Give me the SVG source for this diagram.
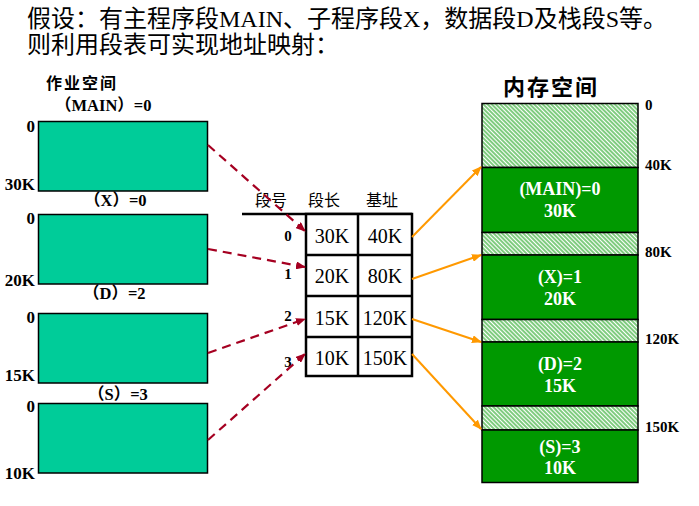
<svg xmlns="http://www.w3.org/2000/svg" width="699" height="506" viewBox="0 0 699 506">
<style>
.t{font-family:"Liberation Serif","Noto Sans CJK SC",serif;fill:#000}
.b{font-weight:bold}
.job{fill:#00CC99;stroke:#000;stroke-width:1.5}
.seg{fill:#009900;stroke:#000;stroke-width:1.5}
.hat{fill:url(#hatch);stroke:#000;stroke-width:1.5}
.wl{font-family:"Liberation Serif",serif;font-weight:bold;font-size:18px;fill:#fff;text-anchor:middle}
.cell{fill:#fff;stroke:#000;stroke-width:2.5}
.ct{font-family:"Liberation Serif",serif;font-size:20px;text-anchor:middle}
.red{stroke:#A50021;stroke-width:2.2;stroke-dasharray:9,6;fill:none;marker-end:url(#ar)}
.org{stroke:#FF9900;stroke-width:2;fill:none;marker-end:url(#ao)}
.ll{font-family:"Liberation Serif",serif;font-weight:bold;font-size:17px;text-anchor:end}
.ml{font-family:"Liberation Serif",serif;font-weight:bold;font-size:15px}
</style>
<defs>
<pattern id="hatch" patternUnits="userSpaceOnUse" width="3" height="3" patternTransform="rotate(-45)">
<rect width="3" height="3" fill="#fff"/>
<line x1="1" y1="0" x2="1" y2="3" stroke="#009900" stroke-width="1"/>
</pattern>
<marker id="ar" markerWidth="10" markerHeight="8" refX="9" refY="4" orient="auto" markerUnits="userSpaceOnUse">
<path d="M0,0 L10,4 L0,8 z" fill="#A50021"/>
</marker>
<marker id="ao" markerWidth="10" markerHeight="8" refX="9" refY="4" orient="auto" markerUnits="userSpaceOnUse">
<path d="M0,0 L10,4 L0,8 z" fill="#FF9900"/>
</marker>
</defs>

<g id="title">
<text class="t" x="27" y="27" font-size="24">假设：有主程序段MAIN、子程序段X，数据段D及栈段S等。</text>
<text class="t" x="27" y="53" font-size="24">则利用段表可实现地址映射：</text>
</g>

<g id="job-space">
<text class="t b" x="46" y="89" font-size="16" letter-spacing="2">作业空间</text>
</g>

<g id="job-main">
<text class="t b" x="55" y="111" font-size="16.5">（MAIN）=0</text>
<rect class="job" x="38.5" y="121.5" width="169" height="69.5"/>
<text class="ll" x="35" y="132">0</text>
<text class="ll" x="35" y="190">30K</text>
</g>
<g id="job-x">
<text class="t b" x="84" y="206" font-size="16.5">（X）=0</text>
<rect class="job" x="38.5" y="214.5" width="169" height="69.5"/>
<text class="ll" x="35" y="224">0</text>
<text class="ll" x="35" y="286">20K</text>
</g>
<g id="job-d">
<text class="t b" x="83" y="299" font-size="16.5">（D）=2</text>
<rect class="job" x="38.5" y="313.5" width="169" height="69.5"/>
<text class="ll" x="35" y="323">0</text>
<text class="ll" x="35" y="381">15K</text>
</g>
<g id="job-s">
<text class="t b" x="88" y="400" font-size="16.5">（S）=3</text>
<rect class="job" x="38.5" y="403.5" width="169" height="69.5"/>
<text class="ll" x="35" y="412">0</text>
<text class="ll" x="35" y="479">10K</text>
</g>

<g id="seg-table">
<text class="t" x="271" y="206" font-size="16" text-anchor="middle">段号</text>
<text class="t" x="324" y="206" font-size="16" text-anchor="middle">段长</text>
<text class="t" x="382" y="206" font-size="16" text-anchor="middle">基址</text>
<line x1="242" y1="214" x2="412" y2="214" stroke="#000" stroke-width="2.5"/>
<rect class="cell" x="306" y="214" width="106" height="162"/>
<line x1="358" y1="214" x2="358" y2="376" stroke="#000" stroke-width="2.5"/>
<line x1="306" y1="255" x2="412" y2="255" stroke="#000" stroke-width="2.5"/>
<line x1="306" y1="296" x2="412" y2="296" stroke="#000" stroke-width="2.5"/>
<line x1="306" y1="337" x2="412" y2="337" stroke="#000" stroke-width="2.5"/>
<text class="ml" x="288" y="241" text-anchor="middle" font-size="14">0</text>
<text class="ml" x="288" y="279" text-anchor="middle" font-size="14">1</text>
<text class="ml" x="288" y="321" text-anchor="middle" font-size="14">2</text>
<text class="ml" x="288" y="367" text-anchor="middle" font-size="14">3</text>
<text class="ct" x="332" y="243">30K</text>
<text class="ct" x="385" y="243">40K</text>
<text class="ct" x="332" y="283">20K</text>
<text class="ct" x="385" y="283">80K</text>
<text class="ct" x="332" y="325">15K</text>
<text class="ct" x="385" y="325">120K</text>
<text class="ct" x="332" y="365">10K</text>
<text class="ct" x="385" y="365">150K</text>
</g>

<g id="memory">
<text class="t b" x="503" y="95" font-size="22" letter-spacing="2">内存空间</text>
<rect class="hat" x="482" y="103.5" width="156" height="64"/>
<rect class="seg" x="482" y="167.5" width="156" height="65"/>
<rect class="hat" x="482" y="232.5" width="156" height="22.5"/>
<rect class="seg" x="482" y="255" width="156" height="64.5"/>
<rect class="hat" x="482" y="319.5" width="156" height="22.5"/>
<rect class="seg" x="482" y="342" width="156" height="64"/>
<rect class="hat" x="482" y="406" width="156" height="24"/>
<rect class="seg" x="482" y="430" width="156" height="52.5"/>
<text class="wl" x="560" y="195">(MAIN)=0</text>
<text class="wl" x="560" y="217">30K</text>
<text class="wl" x="560" y="283">(X)=1</text>
<text class="wl" x="560" y="305">20K</text>
<text class="wl" x="560" y="370">(D)=2</text>
<text class="wl" x="560" y="392">15K</text>
<text class="wl" x="560" y="453">(S)=3</text>
<text class="wl" x="560" y="474">10K</text>
<text class="ml" x="645" y="110">0</text>
<text class="ml" x="645" y="170">40K</text>
<text class="ml" x="645" y="257">80K</text>
<text class="ml" x="645" y="344">120K</text>
<text class="ml" x="645" y="432">150K</text>
</g>

<g id="connectors">
<line class="red" x1="208" y1="145" x2="305" y2="231"/>
<line class="red" x1="208" y1="249" x2="305" y2="267"/>
<line class="red" x1="208" y1="353" x2="305" y2="319"/>
<line class="red" x1="208" y1="440" x2="305" y2="354"/>
<line class="org" x1="412" y1="237" x2="481" y2="167"/>
<line class="org" x1="412" y1="279" x2="481" y2="255"/>
<line class="org" x1="412" y1="319" x2="481" y2="342"/>
<line class="org" x1="412" y1="354" x2="481" y2="429"/>
</g>
</svg>
